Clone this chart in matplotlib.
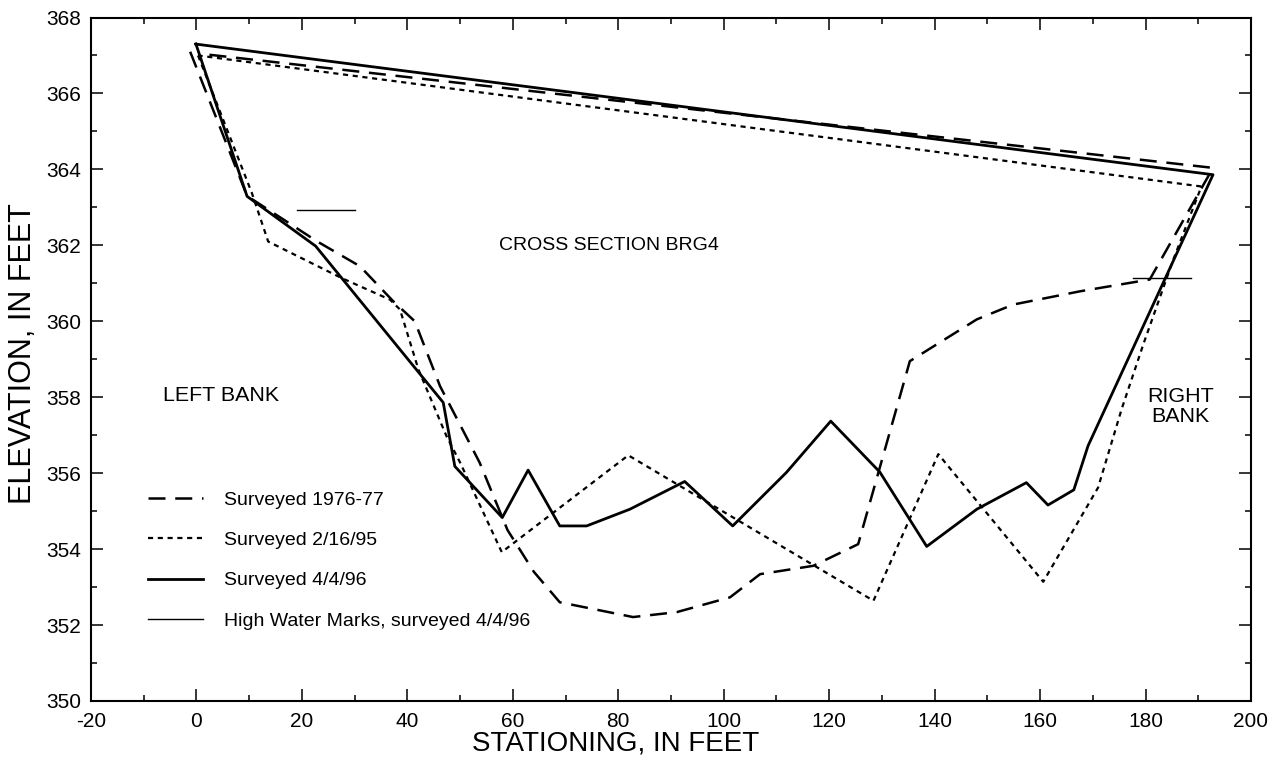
import matplotlib
matplotlib.use("Agg")
import matplotlib.pyplot as plt
from matplotlib.lines import Line2D
from matplotlib.ticker import MultipleLocator

plt.rcParams["font.family"] = ["Liberation Sans", "DejaVu Sans"]
plt.rcParams["axes.unicode_minus"] = False

# Surveyed cross sections (stationing in feet, elevation in feet); each loop
# runs down the left bank, across the channel, up the right bank and back
# along the top line.
sta_1976 = [-1.2, 9.6, 16.5, 22.8, 31.0, 37.3, 41.4, 46.2, 53.7, 59.0, 64.0,
            68.9, 82.8, 91.1, 101.2, 106.9, 117.0, 125.5, 135.3, 148.0, 154.9,
            167.6, 180.8, 192.8, 0.5]
elev_1976 = [367.10, 363.30, 362.68, 362.11, 361.45, 360.53, 360.00, 358.29,
             356.28, 354.50, 353.40, 352.60, 352.21, 352.34, 352.73, 353.34,
             353.56, 354.13, 358.95, 360.05, 360.44, 360.79, 361.10, 364.04,
             367.05]

sta_1995 = [0.3, 10.5, 13.6, 27.5, 36.7, 38.6, 42.1, 47.4, 50.0, 57.9, 81.9,
            128.4, 140.7, 160.6, 171.0, 175.5, 179.6, 185.2, 190.6, 0.3]
elev_1995 = [367.00, 363.38, 362.10, 361.14, 360.57, 360.31, 358.73, 356.98,
             356.28, 353.92, 356.47, 352.64, 356.50, 353.14, 355.62, 357.70,
             359.40, 361.60, 363.55, 367.00]

sta_1996 = [-0.1, 9.6, 22.6, 46.8, 49.0, 58.0, 62.9, 68.9, 74.0, 82.2, 92.6,
            101.7, 111.9, 120.3, 129.6, 138.5, 148.0, 157.4, 161.5, 166.4,
            169.1, 192.8, -0.1]
elev_1996 = [367.30, 363.29, 361.98, 357.86, 356.18, 354.83, 356.08, 354.61,
             354.61, 355.05, 355.78, 354.61, 356.02, 357.37, 356.03, 354.07,
             355.05, 355.75, 355.16, 355.56, 356.72, 363.86, 367.30]

# High water marks surveyed 4/4/96 (start station, end station, elevation)
hwm_start = [19.1, 177.7]
hwm_end = [30.0, 188.7]
hwm_elev = [362.94, 361.13]

labels = ["Surveyed 1976-77", "Surveyed 2/16/95", "Surveyed 4/4/96",
          "High Water Marks, surveyed 4/4/96"]

x_ticks = list(range(-20, 201, 20))
y_ticks = list(range(350, 369, 2))

fig = plt.figure(figsize=(12.82, 7.65), dpi=100)
ax = fig.add_axes([0.071, 0.0837, 0.9048, 0.8934])

dash_style = dict(color="black", lw=1.8, linestyle=(0, (6.8, 3.9)))
dot_style = dict(color="black", lw=1.6, linestyle=(0, (2.3, 2.1)))
solid_style = dict(color="black", lw=2.0, linestyle="-")
hwm_style = dict(color="black", lw=1.0, linestyle="-")

ax.plot(sta_1976, elev_1976, **dash_style)
ax.plot(sta_1995, elev_1995, **dot_style)
ax.plot(sta_1996, elev_1996, **solid_style)
for xs, xe, e in zip(hwm_start, hwm_end, hwm_elev):
    ax.plot([xs, xe], [e, e], **hwm_style)

ax.set_xlim(-20, 200)
ax.set_ylim(350, 368)
ax.set_xticks(x_ticks)
ax.set_yticks(y_ticks)
ax.xaxis.set_minor_locator(MultipleLocator(10))
ax.yaxis.set_minor_locator(MultipleLocator(1))
ax.tick_params(which="both", direction="in", top=True, right=True,
               width=1.1, labelsize=15)
ax.tick_params(axis="x", pad=8)
ax.tick_params(axis="y", pad=7)
ax.tick_params(which="major", length=8.5)
ax.tick_params(which="minor", length=4.5)
for sp in ax.spines.values():
    sp.set_linewidth(1.5)

ax.set_xlabel("STATIONING, IN FEET", fontsize=20, va="center")
ax.set_ylabel("ELEVATION, IN FEET", fontsize=22)
ax.xaxis.set_label_coords(0.4526, -0.0625)
ax.yaxis.set_label_coords(-0.0457, 0.509)

ax.text(78.2, 362.0, "CROSS SECTION BRG4", fontsize=14, ha="center",
        va="center")
ax.text(-6.3, 358.04, "LEFT BANK", fontsize=15.4, ha="left", va="center")
ax.text(186.7, 357.75, "RIGHT\nBANK", fontsize=15.4, ha="center",
        va="center", linespacing=1.1)

handles = [Line2D([], [], **dash_style), Line2D([], [], **dot_style),
           Line2D([], [], **solid_style), Line2D([], [], **hwm_style)]
ax.legend(handles, labels, loc="upper left", bbox_to_anchor=(0.0491, 0.307),
          frameon=False, fontsize=14, handlelength=2.83, handletextpad=1.08,
          labelspacing=1.17, borderpad=0, borderaxespad=0)

fig.savefig("out.png", dpi=100)
